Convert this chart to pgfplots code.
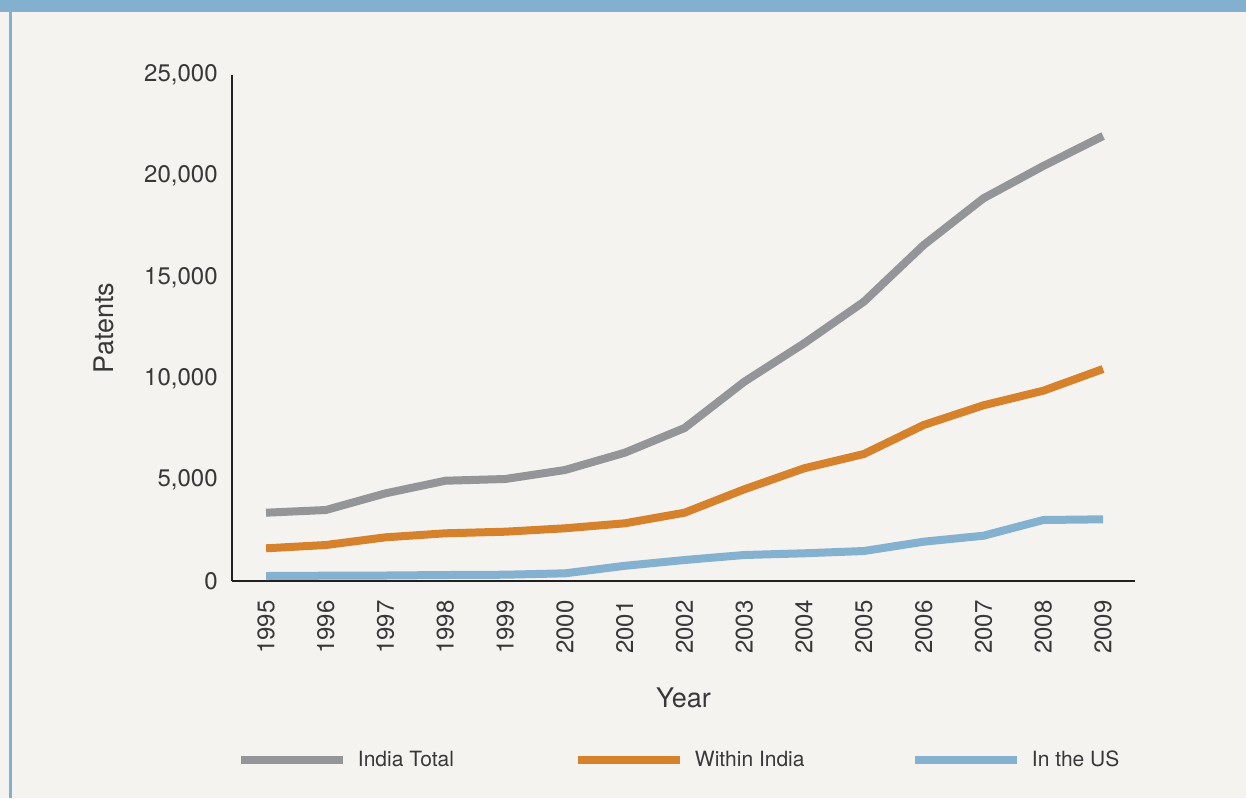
\documentclass[border=0pt]{standalone}
\usepackage{fontspec}
\setmainfont{TeX Gyre Heros}
\usepackage{pgfplots}
\pgfplotsset{compat=1.18}
\definecolor{bg}{HTML}{F4F3EF}
\definecolor{band}{HTML}{84B0CF}
\definecolor{cgray}{HTML}{939598}
\definecolor{corange}{HTML}{D6812C}
\definecolor{cblue}{HTML}{84B1CF}
\definecolor{txt}{HTML}{383838}
\definecolor{axcol}{HTML}{231F20}
\begin{document}
\begin{tikzpicture}
\fill[bg] (0,0) rectangle (623pt,-399pt);
\fill[band] (0,0) rectangle (623pt,-6pt);
\fill[band] (4.5pt,-6pt) rectangle (6pt,-399pt);
\begin{axis}[
  at={(116pt,-290.5pt)}, anchor=south west,
  scale only axis, width=451.5pt, height=253pt,
  xmin=1994.43, xmax=2009.535, ymin=0, ymax=25000,
  axis x line*=bottom, axis y line*=left,
  axis line style={axcol, line width=1.2pt},
  major tick length=0pt,
  xtick={1995,1996,...,2009},
  xticklabels={1995,1996,1997,1998,1999,2000,2001,2002,2003,2004,2005,2006,2007,2008,2009},
  ytick={0,5000,10000,15000,20000,25000},
  scaled y ticks=false,
  /pgf/number format/assume math mode=true,
  /pgf/number format/1000 sep={,},
  tick label style={font=\fontsize{12}{14}\selectfont, text=txt},
  xticklabel style={rotate=90, anchor=east, inner xsep=9.5pt, inner ysep=0pt},
  yticklabel style={anchor=east, inner xsep=7pt, inner ysep=0pt},
  xlabel={Year}, ylabel={Patents},
  label style={font=\fontsize{13.5}{15}\selectfont, text=txt},
  xlabel style={at={(axis description cs:0.5,-0.2312)}, anchor=center},
  ylabel style={at={(axis description cs:-0.1417,0.5)}, anchor=center},
  legend columns=3,
  legend image code/.code={\draw[#1] (0pt,0pt) -- (51pt,0pt);},
  legend style={at={(axis description cs:0.0055,-0.3538)}, anchor=west,
    draw=none, fill=none, inner sep=0pt, outer sep=0pt,
    font=\fontsize{10.5}{12}\selectfont, text=txt,
    nodes={inner sep=0pt},
    /tikz/every odd column/.append style={column sep=5.5pt},
    /tikz/every even column/.append style={column sep=0pt}},
  every axis plot/.append style={line width=4pt, line join=miter},
  clip=false,
]
\addplot[cgray] coordinates {
 (1995,3375) (1996,3508) (1997,4333) (1998,4955) (1999,5040) (2000,5484)
 (2001,6339) (2002,7559) (2003,9847) (2004,11744) (2005,13800) (2006,16601)
 (2007,18908) (2008,20504) (2009,21986)};
\addlegendentry{\makebox[108pt][l]{India Total}}
\addplot[corange] coordinates {
 (1995,1616) (1996,1779) (1997,2159) (1998,2357) (1999,2436) (2000,2604)
 (2001,2851) (2002,3375) (2003,4531) (2004,5568) (2005,6275) (2006,7708)
 (2007,8681) (2008,9402) (2009,10474)};
\addlegendentry{\makebox[108pt][l]{Within India}}
\addplot[cblue] coordinates {
 (1995,247) (1996,262) (1997,272) (1998,296) (1999,311) (2000,380)
 (2001,750) (2002,1038) (2003,1285) (2004,1369) (2005,1482) (2006,1942)
 (2007,2238) (2008,3014) (2009,3048)};
\addlegendentry{\makebox[108pt][l]{In the US}}
\end{axis}
\pgfresetboundingbox
\path[use as bounding box] (0,0) rectangle (623pt,-399pt);
\end{tikzpicture}
\end{document}
